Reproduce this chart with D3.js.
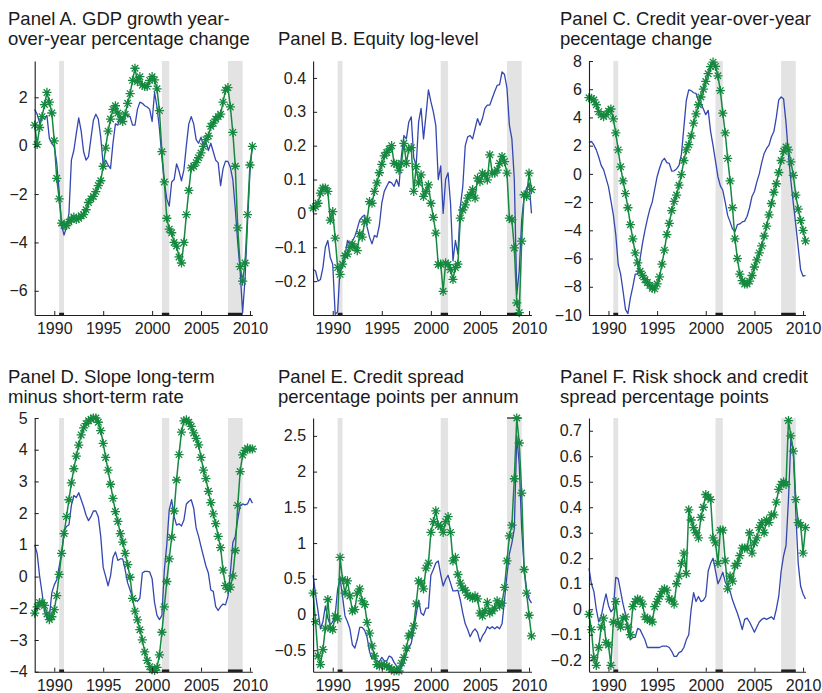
<!DOCTYPE html>
<html>
<head>
<meta charset="utf-8">
<title>Six panels: data and model, 1988–2010</title>
<script src="https://cdn.jsdelivr.net/npm/d3@7/dist/d3.min.js"></script>
<style>
  html, body { margin: 0; padding: 0; background: #fff; }
  svg { display: block; font-family: "Liberation Sans", Arial, Helvetica, sans-serif; }
</style>
</head>
<body>
<svg id="chart" width="822" height="693"></svg>
<script>
// Quarterly dates, 1988Q1 to 2010Q2
const quarters = d3.range(90).map(i => 1988 + i / 4);
const recessions = [[1990.5, 1991.0], [2001.0, 2001.75], [2007.75, 2009.25]];
const yearTicks = [1990, 1995, 2000, 2005, 2010];

// Panel A: GDP growth, year-over-year percentage change
const gdpData = [
  1.5, 1.3, 0.95, 1.2, 1.1, 1.25, 0.3, 0.1, -0.05, -0.7,
  -1.9, -3.3, -3.7, -3.35, -2.8, -0.6, -0.2, 0.5, 1.15, 0.6,
  -0.25, -0.6, -0.45, 0.3, 1.05, 1.3, 1.1, 0.35, -0.8, -0.6,
  -0.8, -0.95, 0.1, 0.9, 0.85, 1.25, 1.1, 1.3, 1.25, 1.2,
  0.85, 0.85, 1.5, 1.8, 1.75, 1.65, 1.6, 1.5, 1.0, 2.2,
  1.6, 0.7, -0.5, -1.5, -2.2, -2.5, -1.5, -1.4, -0.75, -1.05,
  -1.45, -1.0, 0.0, 0.9, 1.2, 0.9, 0.25, 0.1, 0.35, -0.03,
  0.15, -0.2, 0.1, -0.25, -0.6, -0.7, -1.65, -0.95, -0.64, -0.65,
  -0.9, -1.4, -2.6, -4.0, -5.2, -6.9, -5.5, -3.2, -1.1, 0.05
];
const gdpModel = [
  0.85, 0.05, 0.75, 1.2, 1.7, 2.2, 1.8, 1.35, 0.2, -1.35,
  -2.2, -3.2, -3.3, -3.3, -3.15, -3.05, -2.95, -3.05, -3.0, -2.9,
  -2.85, -2.65, -2.35, -2.2, -2.1, -1.9, -1.65, -1.45, -0.85, -0.1,
  0.6, 1.1, 1.5, 1.65, 1.35, 1.1, 1.0, 1.3, 1.75, 2.15,
  2.7, 3.2, 2.65, 2.85, 2.5, 2.45, 2.45, 2.7, 2.85, 2.72,
  2.35, 1.45, -0.25, -1.5, -3.0, -3.45, -3.6, -4.0, -4.15, -4.6,
  -4.85, -4.0, -2.85, -1.85, -0.92, -0.85, -0.7, -0.5, -0.3, -0.03,
  0.25, 0.4, 0.8, 0.93, 1.1, 1.2, 1.3, 1.8, 2.3, 2.4,
  1.6, 0.55, -0.85, -3.4, -5.0, -5.6, -4.85, -2.85, -0.8, -0.03
];
const gdpTicks = [2, 0, -2, -4, -6];

// Panel B: equity, log level
const equityData = [
  -0.165, -0.17, -0.2, -0.195, -0.16, -0.1, -0.08, -0.13, -0.15, -0.298,
  -0.29, -0.16, -0.16, -0.125, -0.08, -0.09, -0.082, -0.068, -0.045, -0.02,
  -0.01, -0.005, -0.04, -0.07, -0.09, -0.065, -0.07, -0.035, 0.03, 0.065,
  0.08, 0.094, 0.09, 0.08, 0.1, 0.08, 0.17, 0.23, 0.22, 0.27,
  0.285, 0.165, 0.14, 0.27, 0.31, 0.22, 0.29, 0.365, 0.33, 0.3,
  0.26, 0.1, 0.14, 0.0, 0.1, 0.12, 0.03, -0.14, -0.08, -0.12,
  0.02, 0.08, 0.2, 0.226, 0.23, 0.22, 0.25, 0.28, 0.26, 0.28,
  0.31, 0.32, 0.32, 0.34, 0.36, 0.378, 0.38, 0.418, 0.41, 0.37,
  0.26, 0.22, 0.1, -0.24, -0.17, -0.02, 0.05, 0.075, 0.09, 0.0
];
const equityModel = [
  0.016, 0.02, 0.03, 0.06, 0.075, 0.075, 0.065, -0.02, 0.005, -0.073,
  -0.16, -0.18, -0.15, -0.125, -0.12, -0.1, -0.09, -0.1, -0.11, -0.06,
  -0.07, -0.025, -0.02, 0.035, 0.03, 0.065, 0.09, 0.12, 0.145, 0.17,
  0.18, 0.19, 0.2, 0.148, 0.145, 0.128, 0.148, 0.207, 0.148, 0.19,
  0.194, 0.065, 0.138, 0.09, 0.114, 0.05, 0.065, 0.084, 0.03, -0.012,
  -0.058, -0.151, -0.15, -0.23, -0.146, -0.151, -0.166, -0.195, -0.16, -0.15,
  -0.014, 0.01, 0.025, 0.045, 0.055, 0.07, 0.045, 0.104, 0.094, 0.119,
  0.114, 0.099, 0.173, 0.119, 0.119, 0.128, 0.148, 0.168, 0.153, 0.119,
  -0.014, -0.019, -0.102, -0.264, -0.293, -0.082, 0.055, 0.05, 0.119, 0.07
];
const equityTicks = [0.4, 0.3, 0.2, 0.1, 0, -0.1, -0.2];

// Panel C: credit, year-over-year percentage change
const creditData = [
  2.2, 2.3, 2.05, 1.7, 1.2, 0.6, 0.3, -0.3, -0.9, -1.9,
  -2.9, -4.3, -6.4, -7.1, -8.3, -9.6, -9.9, -8.8, -8.0, -7.1,
  -7.1, -6.0, -4.9, -4.0, -3.2, -2.5, -2.0, -1.1, -0.2, 0.4,
  0.9, 1.1, 0.8, 0.74, 0.2, 0.22, 0.35, 0.6, 1.4, 3.3,
  5.2, 5.95, 5.9, 5.75, 5.7, 5.2, 5.0, 4.6, 4.2, 4.5,
  3.0, 2.0, 0.9, -0.2, -0.85, -1.16, -2.0, -2.94, -3.4, -3.9,
  -4.1, -3.6, -3.55, -3.4, -3.35, -3.0, -2.4, -1.6, -1.25, -0.57,
  0.0, 0.8, 1.45, 1.8, 2.04, 2.63, 3.0, 4.0, 5.24, 5.45,
  5.3, 3.6, 1.3, -0.5, -2.1, -3.6, -5.2, -6.8, -7.25, -7.2
];
const creditModel = [
  5.4, 5.35, 5.24, 4.9, 4.41, 4.18, 4.06, 4.2, 4.45, 4.6,
  3.9, 2.9, 1.7, 0.5, -0.5, -1.4, -2.4, -3.6, -4.6, -5.6,
  -6.3, -6.9, -7.2, -7.5, -7.7, -7.9, -8.1, -8.15, -7.8, -7.3,
  -6.4, -5.4, -4.3, -3.5, -2.6, -1.95, -1.5, -0.8, -0.05, 0.95,
  1.7, 2.07, 2.7, 3.6, 4.25, 4.9, 5.45, 6.0, 6.55, 7.1,
  7.6, 7.92, 7.62, 6.95, 5.9, 4.3, 2.9, 1.1, -0.5, -2.4,
  -4.6, -6.0, -7.1, -7.57, -7.8, -7.8, -7.6, -7.2, -6.6, -6.1,
  -5.6, -5.1, -4.4, -3.7, -2.9, -2.1, -1.3, -0.7, 0.1, 0.95,
  1.6, 1.9, 1.7, 0.85, -0.1, -1.5, -2.5, -3.3, -4.0, -4.75
];
const creditTicks = [8, 6, 4, 2, 0, -2, -4, -6, -8, -10];

// Panel D: slope, long-term minus short-term rate
const slopeData = [
  0.5, 0.2, -0.6, -1.2, -1.85, -2.12, -2.05, -1.2, -0.92, -0.74,
  -0.27, 0.2, 0.97, 1.15, 1.21, 1.9, 2.25, 2.18, 2.35, 2.1,
  1.85, 1.55, 1.36, 1.5, 1.7, 1.7, 1.5, 0.8, -0.3, -0.62,
  -0.95, -0.6, 0.05, 0.25, -0.05, 0.0, 0.0, -0.4, -0.85, -1.1,
  -1.38, -1.45, -1.5, -1.39, -0.5, -0.44, -0.44, -0.46, -0.7, -1.55,
  -2.0, -2.15, -2.0, -0.4, 0.5, 1.74, 2.1, 1.5, 1.2, 1.25,
  1.17, 1.38, 1.95, 2.04, 2.1, 1.8, 1.1, 0.8, 0.44, 0.09,
  -0.25, -0.5, -1.1, -1.15, -1.69, -1.83, -1.69, -1.6, -1.63, -1.33,
  -0.5, 0.58, 0.8, 1.4, 1.9, 1.95, 1.92, 1.95, 2.15, 1.98
];
const slopeModel = [
  -1.92, -1.7, -1.55, -1.55, -1.65, -1.95, -2.15, -2.05, -1.8, -1.3,
  -0.55, 0.2, 0.9, 1.5, 2.1, 2.7, 3.2, 3.65, 4.04, 4.4,
  4.65, 4.8, 4.9, 4.96, 5.0, 5.0, 4.85, 4.55, 4.1, 3.6,
  3.15, 2.65, 2.15, 1.68, 1.33, 0.9, 0.6, 0.2, -0.2, -0.65,
  -1.4, -1.85, -2.16, -2.51, -2.87, -3.3, -3.6, -3.82, -3.93, -3.95,
  -3.85, -3.4, -2.6, -1.7, -0.8, 0.0, 0.77, 1.7, 2.8, 3.7,
  4.5, 4.9, 4.93, 4.85, 4.7, 4.47, 4.28, 4.05, 3.6, 3.15,
  2.85, 2.4, 2.0, 1.6, 1.25, 0.8, 0.4, -0.4, -0.95, -1.08,
  -1.0, -0.6, 0.3, 1.9, 3.1, 3.69, 3.85, 3.93, 3.9, 3.9
];
const slopeTickLabels = ["5", "4", "3", "2", "1", "0", "\u22122", "\u22123", "\u22124"];

// Panel E: credit spread, percentage points per annum
const spreadData = [
  0.55, 0.28, 0.05, -0.2, -0.1, 0.12, -0.05, -0.15, -0.1, 0.0,
  0.35, 0.51, 0.25, -0.02, -0.1, -0.2, -0.42, -0.47, -0.35, -0.18,
  -0.18, -0.22, -0.32, -0.52, -0.62, -0.62, -0.65, -0.66, -0.6, -0.65,
  -0.65, -0.58, -0.6, -0.67, -0.72, -0.76, -0.74, -0.68, -0.54, -0.47,
  -0.4, -0.22, 0.0, 0.2, 0.02, -0.01, 0.09, 0.09, 0.55, 0.63,
  0.72, 0.75, 0.56, 0.4, 0.49, 0.55, 0.44, 0.33, 0.33, 0.34,
  0.2, 0.02, -0.13, -0.21, -0.31, -0.24, -0.2, -0.25, -0.38, -0.3,
  -0.25, -0.17, -0.2, -0.17, -0.2, -0.17, -0.2, -0.13, 0.2, 0.55,
  0.85, 1.0, 1.2, 2.5, 2.1, 1.2, 0.65, 0.35, 0.22, 0.16
];
const spreadModel = [
  0.3, -0.1, -0.58, -0.7, -0.49, -0.19, 0.21, -0.19, -0.21, -0.02,
  -0.06, 0.8, 0.49, 0.3, 0.47, 0.26, 0.05, 0.07, 0.3, 0.36,
  0.19, 0.14, -0.11, -0.26, -0.44, -0.58, -0.7, -0.72, -0.7, -0.71,
  -0.72, -0.74, -0.77, -0.79, -0.77, -0.79, -0.68, -0.6, -0.47, -0.3,
  -0.26, -0.16, 0.15, 0.47, 0.44, 0.36, 0.65, 0.72, 1.15, 1.3,
  1.45, 1.25, 1.23, 1.15, 1.3, 1.37, 1.15, 0.75, 0.8, 0.56,
  0.44, 0.37, 0.34, 0.27, 0.25, 0.23, 0.26, 0.22, 0.02, -0.02,
  0.05, 0.17, 0.02, 0.05, 0.09, 0.19, 0.12, 0.16, 0.38, 0.75,
  1.1, 1.25, 1.9, 2.75, 2.4, 1.7, 0.63, 0.3, -0.01, -0.3
];
const spreadTicks = [2.5, 2, 1.5, 1, 0.5, 0, -0.5];

// Panel F: risk shock and credit spread, percentage points
const riskData = [
  0.16, 0.1, 0.07, 0.0, -0.05, -0.03, 0.02, 0.06, 0.015, -0.01,
  0.0, 0.125, 0.12, 0.07, 0.02, -0.02, -0.08, -0.12, -0.11, -0.11,
  -0.075, -0.08, -0.1, -0.12, -0.15, -0.15, -0.15, -0.15, -0.15, -0.15,
  -0.145, -0.145, -0.145, -0.15, -0.165, -0.185, -0.185, -0.17, -0.165, -0.15,
  -0.12, -0.1, 0.0, 0.065, 0.03, 0.05, 0.03, 0.035, 0.05, 0.15,
  0.18, 0.2, 0.15, 0.1, 0.12, 0.145, 0.107, 0.088, 0.07, 0.036,
  0.01, -0.016, -0.045, -0.08, -0.04, -0.035, -0.05, -0.07, -0.09, -0.07,
  -0.05, -0.04, -0.035, -0.04, -0.035, -0.03, -0.04, 0.0, 0.05, 0.15,
  0.21, 0.25, 0.43, 0.67, 0.62, 0.38, 0.18, 0.09, 0.06, 0.04
];
const riskModel = [
  -0.02, -0.08, -0.19, -0.22, -0.15, -0.07, -0.035, -0.13, -0.14, -0.22,
  -0.05, 0.03, -0.055, -0.07, -0.035, -0.03, -0.07, -0.1, 0.01, 0.03,
  0.04, 0.036, 0.02, -0.03, -0.04, -0.04, -0.05, 0.01, 0.03, 0.05,
  0.07, 0.08, 0.075, 0.04, 0.036, 0.02, 0.1, 0.13, 0.18, 0.22,
  0.14, 0.39, 0.35, 0.32, 0.3, 0.28, 0.36, 0.4, 0.45, 0.44,
  0.43, 0.28, 0.26, 0.18, 0.31, 0.31, 0.19, 0.08, 0.13, 0.11,
  0.17, 0.18, 0.21, 0.24, 0.24, 0.24, 0.3, 0.22, 0.26, 0.28,
  0.32, 0.34, 0.3, 0.35, 0.34, 0.37, 0.37, 0.42, 0.47, 0.49,
  0.5, 0.49, 0.74, 0.68, 0.62, 0.43, 0.34, 0.33, 0.22, 0.32
];
const riskTicks = [0.7, 0.6, 0.5, 0.4, 0.3, 0.2, 0.1, 0, -0.1, -0.2];

// ---- layout and styling ----
const BLUE = "#3447b0";
const GREEN = "#15893f";
const AXIS = "#1e1e1e";
const BAND = "#e3e3e3";

const columns = [
  { x0: 34.7, x1: 252.4, titleX: 8 },
  { x0: 313.1, x1: 531.5, titleX: 278 },
  { x0: 589.0, x1: 805.5, titleX: 560 }
];
const rows = [
  { top: 61, bottom: 315, titleY: [25, 45] },
  { top: 418, bottom: 671.7, titleY: [383, 403] }
];

const fmt = d3.format("");
const panels = [
  { col: 0, row: 0, title: ["Panel A. GDP growth year-", "over-year percentage change"],
    data: gdpData, model: gdpModel, domain: [-7, 3.5], ticks: gdpTicks },
  { col: 1, row: 0, title: [null, "Panel B. Equity log-level"],
    data: equityData, model: equityModel, domain: [-0.3, 0.45], ticks: equityTicks },
  { col: 2, row: 0, title: ["Panel C. Credit year-over-year", "pecentage change"],
    data: creditData, model: creditModel, domain: [-10, 8], ticks: creditTicks },
  { col: 0, row: 1, title: ["Panel D. Slope long-term", "minus short-term rate"],
    data: slopeData, model: slopeModel, domain: [-4, 5],
    ticks: slopeTickLabels.map((_, i) => 5 - i * 9 / (slopeTickLabels.length - 1)),
    tickText: (d, i) => slopeTickLabels[i] },
  { col: 1, row: 1, title: ["Panel E. Credit spread", "percentage points per annum"],
    data: spreadData, model: spreadModel, domain: [-0.8, 2.75], ticks: spreadTicks, bandTop: true },
  { col: 2, row: 1, title: ["Panel F. Risk shock and credit", "spread percentage points"],
    data: riskData, model: riskModel, domain: [-0.245, 0.75], ticks: riskTicks }
];

// eight-armed asterisk marker
const R = 4.6, D = R * 0.7071;
const starPath = `M${-R},0H${R}M0,${-R}V${R}M${-D},${-D}L${D},${D}M${-D},${D}L${D},${-D}`;

const svg = d3.select("#chart");

panels.forEach(p => {
  const c = columns[p.col], r = rows[p.row];
  const x = d3.scaleLinear().domain(d3.extent(quarters)).range([c.x0, c.x1]);
  const y = d3.scaleLinear().domain(p.domain).range([r.bottom, r.top]);
  const g = svg.append("g");

  // recession shading
  g.selectAll("rect.band").data(recessions).join("rect")
    .attr("class", "band")
    .attr("x", d => x(d[0])).attr("width", d => x(d[1]) - x(d[0]))
    .attr("y", r.top).attr("height", r.bottom - r.top)
    .attr("fill", BAND);
  g.selectAll("line.bandfoot").data(recessions).join("line")
    .attr("class", "bandfoot")
    .attr("x1", d => x(d[0])).attr("x2", d => x(d[1]))
    .attr("y1", r.bottom - 1).attr("y2", r.bottom - 1)
    .attr("stroke", AXIS).attr("stroke-width", 2.5);
  if (p.bandTop) {
    g.append("line")
      .attr("x1", x(recessions[2][0])).attr("x2", x(recessions[2][1]))
      .attr("y1", r.top).attr("y2", r.top)
      .attr("stroke", AXIS).attr("stroke-width", 1.2);
  }

  const line = d3.line().x((d, i) => x(quarters[i])).y(d => y(d));

  g.append("path").datum(p.data)
    .attr("d", line).attr("fill", "none")
    .attr("stroke", BLUE).attr("stroke-width", 1.3).attr("stroke-linejoin", "round");

  g.append("path").datum(p.model)
    .attr("d", line).attr("fill", "none")
    .attr("stroke", GREEN).attr("stroke-width", 1.5).attr("stroke-linejoin", "round");

  g.selectAll("path.star").data(p.model).join("path")
    .attr("class", "star")
    .attr("transform", (d, i) => `translate(${x(quarters[i])},${y(d)})`)
    .attr("d", starPath)
    .attr("fill", "none").attr("stroke", GREEN).attr("stroke-width", 1.3);

  // axes
  const yAxis = d3.axisLeft(y)
    .tickValues(p.ticks)
    .tickFormat(p.tickText || (d => fmt(d)))
    .tickSizeInner(-4).tickSizeOuter(0).tickPadding(7);
  const xAxis = d3.axisBottom(x)
    .tickValues(yearTicks)
    .tickFormat(d3.format("d"))
    .tickSizeInner(-4).tickSizeOuter(0).tickPadding(8);

  [g.append("g").attr("transform", `translate(${c.x0},0)`).call(yAxis),
   g.append("g").attr("transform", `translate(0,${r.bottom})`).call(xAxis)]
    .forEach(a => {
      a.attr("font-family", null).attr("font-size", 16).attr("color", AXIS);
      a.selectAll("text").attr("fill", "#222");
      a.select(".domain").attr("stroke-width", 1.1);
    });

  // title
  p.title.forEach((t, k) => {
    if (!t) return;
    svg.append("text")
      .attr("x", c.titleX).attr("y", r.titleY[k])
      .attr("font-size", 18.5).attr("fill", "#1a1a1a")
      .text(t);
  });
});
</script>
</body>
</html>
